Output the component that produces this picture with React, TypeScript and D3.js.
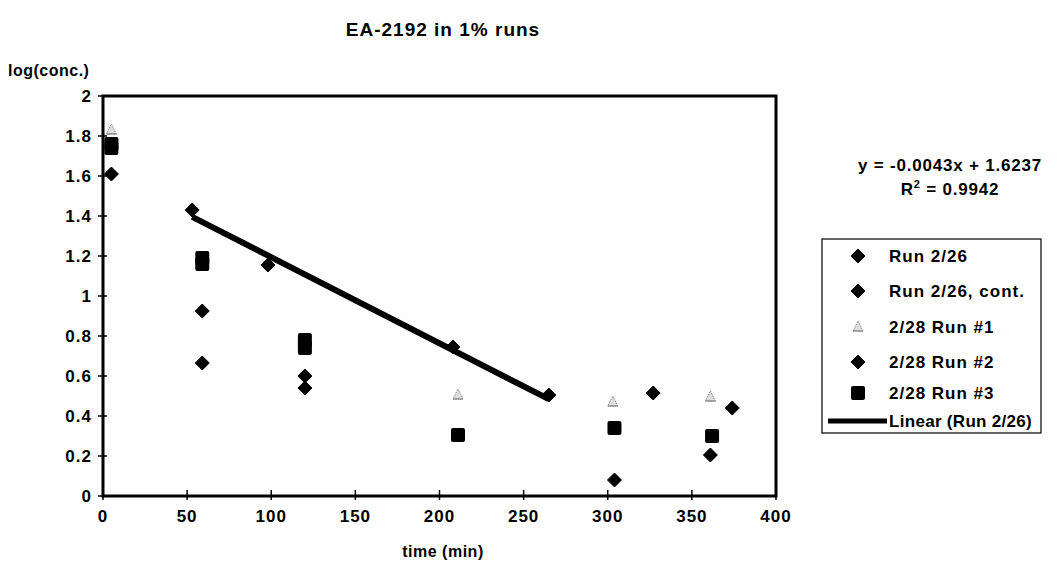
import React from "react";
import * as d3 from "d3";

const xTicks = [0, 50, 100, 150, 200, 250, 300, 350, 400];
const yTicks = [0, 0.2, 0.4, 0.6, 0.8, 1, 1.2, 1.4, 1.6, 1.8, 2];
const yTickLabels = ["0", "0.2", "0.4", "0.6", "0.8", "1", "1.2", "1.4", "1.6", "1.8", "2"];

const run226X = [53, 98, 208, 265];
const run226Y = [1.43, 1.155, 0.745, 0.505];
const run226ContX = [327, 374];
const run226ContY = [0.515, 0.44];
const run1X = [5, 211, 303, 361];
const run1Y = [1.83, 0.505, 0.47, 0.495];
const run2X = [5, 59, 59, 120, 120, 304, 361];
const run2Y = [1.61, 0.925, 0.665, 0.6, 0.54, 0.08, 0.205];
const run3X = [5, 5, 59, 59, 120, 120, 211, 304, 362];
const run3Y = [1.76, 1.74, 1.19, 1.16, 0.78, 0.74, 0.305, 0.34, 0.3];

const slope = -0.0043;
const intercept = 1.6237;
const legendLabels = ["Run 2/26", "Run 2/26, cont.", "2/28 Run #1", "2/28 Run #2", "2/28 Run #3", "Linear (Run 2/26)"];

const FONT = "'Liberation Sans', Arial, sans-serif";

const Diamond = ({ cx, cy, s = 7 }: { cx: number; cy: number; s?: number }) => (
  <path d={`M${cx},${cy - s}L${cx + s},${cy}L${cx},${cy + s}L${cx - s},${cy}Z`} fill="#000" stroke="#000" strokeWidth={1} strokeLinejoin="round" />
);
const Square = ({ cx, cy, s = 7 }: { cx: number; cy: number; s?: number }) => (
  <rect x={cx - s} y={cy - s} width={2 * s} height={2 * s} rx={2} fill="#000" />
);
const Tri = ({ cx, cy }: { cx: number; cy: number }) => (
  <g>
    <path d={`M${cx},${cy - 6}L${cx + 5},${cy + 4}L${cx - 5},${cy + 4}Z`} fill="#ddd" stroke="#888" strokeWidth={1} strokeDasharray="1.5 1" />
    <line x1={cx - 5} x2={cx + 5} y1={cy + 4} y2={cy + 4} stroke="#777" strokeWidth={1} />
  </g>
);

export default function App() {
  const x = d3.scaleLinear().domain([0, 400]).range([103, 776]);
  const y = d3.scaleLinear().domain([0, 2]).range([496, 96]);
  const tx0 = run226X[0];
  const tx1 = run226X[run226X.length - 1];
  const trend = d3.line<number>().x((t) => x(t)).y((t) => y(slope * t + intercept));

  const legX = 858;
  const legTextX = 889;
  const legY = [256, 291, 327, 362, 393, 421];

  return (
    <svg width={1060} height={575} style={{ position: "absolute", left: 0, top: 0, background: "#fff" }} fontFamily={FONT} fontWeight="bold">
      <rect width={1060} height={575} fill="#fff" />
      <text x={443} y={36} textAnchor="middle" fontSize={19} letterSpacing={1}>EA-2192 in 1% runs</text>
      <text x={8} y={76} fontSize={16} letterSpacing={0.5}>log(conc.)</text>

      {/* trend */}
      <path d={trend([tx0, tx1]) || ""} stroke="#000" strokeWidth={6} fill="none" />

      {/* plot frame */}
      <rect x={x(0)} y={y(2)} width={x(400) - x(0)} height={y(0) - y(2)} fill="none" stroke="#000" strokeWidth={3} />

      {yTicks.map((v, i) => (
        <g key={"y" + i}>
          <line x1={x(0) - 5} x2={x(0) + 4} y1={y(v)} y2={y(v)} stroke="#000" strokeWidth={1.5} />
          <text x={x(0) - 11} y={y(v) + 6} textAnchor="end" fontSize={17} letterSpacing={1}>{yTickLabels[i]}</text>
        </g>
      ))}
      {xTicks.map((v, i) => (
        <g key={"x" + i}>
          <line x1={x(v)} x2={x(v)} y1={y(0) - 6} y2={y(0) + 4} stroke="#000" strokeWidth={1.5} />
          <text x={x(v)} y={y(0) + 26} textAnchor="middle" fontSize={17} letterSpacing={1}>{v}</text>
        </g>
      ))}
      <text x={443} y={557} textAnchor="middle" fontSize={16} letterSpacing={0.5}>time (min)</text>

      {/* points */}
      {run1X.map((t, i) => <Tri key={"a" + i} cx={x(t)} cy={y(run1Y[i])} />)}
      {run3X.map((t, i) => <Square key={"c" + i} cx={x(t)} cy={y(run3Y[i])} />)}
      {run2X.map((t, i) => <Diamond key={"b" + i} cx={x(t)} cy={y(run2Y[i])} />)}
      {run226X.map((t, i) => <Diamond key={"d" + i} cx={x(t)} cy={y(run226Y[i])} />)}
      {run226ContX.map((t, i) => <Diamond key={"e" + i} cx={x(t)} cy={y(run226ContY[i])} />)}

      {/* equation */}
      <text x={950} y={171} textAnchor="middle" fontSize={17} letterSpacing={0.8}>y = -0.0043x + 1.6237</text>
      <text x={950} y={195} textAnchor="middle" fontSize={17} letterSpacing={0.8}>R<tspan dy={-7} fontSize={11}>2</tspan><tspan dy={7}> = 0.9942</tspan></text>

      {/* legend */}
      <rect x={822} y={239} width={219} height={194} fill="#fff" stroke="#000" strokeWidth={1.2} />
      <Diamond cx={legX} cy={legY[0]} />
      <Diamond cx={legX} cy={legY[1]} />
      <Tri cx={legX} cy={legY[2]} />
      <Diamond cx={legX} cy={legY[3]} />
      <Square cx={legX} cy={legY[4]} />
      <line x1={828} x2={887} y1={legY[5]} y2={legY[5]} stroke="#000" strokeWidth={5} />
      {legendLabels.map((l, i) => (
        <text key={l} x={legTextX} y={legY[i] + 6} fontSize={17} letterSpacing={i === 5 ? 0.3 : 1}>{l}</text>
      ))}
    </svg>
  );
}
